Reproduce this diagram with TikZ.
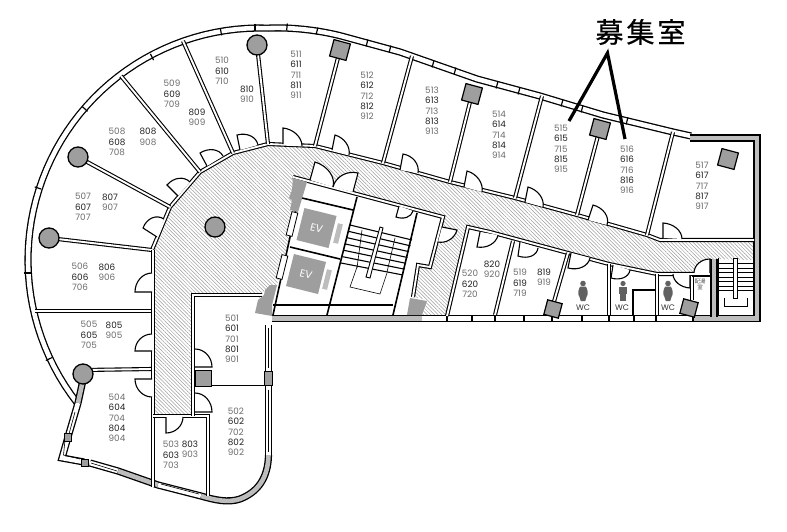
\documentclass[tikz,border=0pt]{standalone}
\usepackage{fontspec}
\setmainfont{Poppins}
\newfontfamily\cjkf{Noto Sans CJK JP}
\newfontfamily\cjkt[FakeBold=0.5]{Noto Sans CJK JP}
\usetikzlibrary{calc,patterns.meta}
\definecolor{wallg}{gray}{0.74}
\definecolor{colg}{gray}{0.62}
\definecolor{tlight}{gray}{0.42}
\definecolor{tdark}{gray}{0.12}
\tikzset{
  outerwall/.style={line width=1.3pt,double=white,double distance=4.6pt,line join=miter},
  graywall/.style={line width=1.3pt,double=wallg,double distance=4.6pt,line join=miter},
  innerwall/.style={line width=1.1pt,double=white,double distance=1.9pt,line join=miter},
  thick line/.style={line width=1.6pt},
  thinl/.style={line width=.6pt},
  doorline/.style={line width=1.1pt,black},
  columnc/.style={fill=colg,draw=black,line width=1.3pt},
  columns/.style={fill=colg,draw=black,line width=1.2pt},
  lab/.style={font=\fontsize{8.8}{10.35}\selectfont,align=center,inner sep=0pt},
  wclab/.style={font=\fontsize{8}{9}\selectfont,text=black!80,inner sep=0pt},
  callout/.style={line width=3.2pt,black},
  wcicon/.style={fill=black!62,draw=none},
  evbox/.style={fill=colg,minimum width=33pt,minimum height=33pt,rotate=-14,inner sep=0pt,text=white,font=\fontsize{10.5}{12}\selectfont},
  evbar/.style={fill=wallg,minimum width=5pt,minimum height=20pt,rotate=-14,inner sep=0pt},
}
\newcommand{\tl}[1]{\textcolor{tlight}{#1}}
\newcommand{\td}[1]{\textcolor{tdark}{#1}}
\newcommand{\stackc}[4]{\node[lab] at (#1) {\tl{#2}\\\td{#3}\\\tl{#4}};}
\newcommand{\stacke}[6]{\node[lab] at (#1) {\tl{#2}\\\td{#3}\\\tl{#4}\\\td{#5}\\\tl{#6}};}
\newcommand{\stackt}[3]{\node[lab] at (#1) {\td{#2}\\\tl{#3}};}
% door: hinge, leaf tip, end of the swing on the wall
\newcommand{\doorp}[3]{%
  \fill[white] (#1) -- (#2) .. controls ($(#2)+0.55*(#3)-0.55*(#1)$) and ($(#3)+0.55*(#2)-0.55*(#1)$) .. (#3) -- cycle;
  \draw[doorline] (#1) -- (#2) .. controls ($(#2)+0.55*(#3)-0.55*(#1)$) and ($(#3)+0.55*(#2)-0.55*(#1)$) .. (#3);}
\newcommand{\tickm}[2]{\draw[line width=1.2pt] ($(#1)-(#2)$) -- ($(#1)+(#2)$);}
\newcommand{\wcfemale}[1]{\begin{scope}[shift={(#1)}]
  \fill[wcicon] (0,-8.5) circle (2.8);
  \fill[wcicon] (-2.8,-5.5) -- (2.8,-5.5) .. controls (5,-2) and (5.5,2) .. (3.5,5) -- (2.2,9) -- (-2.2,9) -- (-3.5,5) .. controls (-5.5,2) and (-5,-2) .. (-2.8,-5.5) -- cycle;
\end{scope}}
\newcommand{\wcmale}[1]{\begin{scope}[shift={(#1)}]
  \fill[wcicon] (0,-8.5) circle (2.6);
  \fill[wcicon] (-4,-5.5) rectangle (4,2);
  \fill[wcicon] (-2.8,2) rectangle (2.8,9);
\end{scope}}
\begin{document}
\begin{tikzpicture}[x=1pt,y=-1pt]
\useasboundingbox (0,0) rectangle (787,531);
\fill[white] (0,0) rectangle (787,531);

% corridor
\path[pattern={Lines[angle=135,distance=2.6pt,line width=.5pt]},pattern color=black!38]
 (152,250) -- (170,207) -- (200,172) -- (233,153) -- (268,144) -- (315,146) -- (383,163) -- (450,182) -- (515,198) -- (577,215) -- (647,235) -- (660,240) -- (755,240)
 -- (753,260) -- (712,259) -- (694,274) -- (657,274) -- (568,253) -- (490,232) -- (468,227) -- (447,315) -- (422,315) -- (427,300) -- (413,297) -- (418,265) -- (430,267) -- (443,217) -- (293,177) -- (298,212) -- (277,285) -- (265,290) -- (258,300) -- (260,295) -- (193,295) -- (193,415) -- (152,415) -- cycle;

% outer curved wall
\draw[outerwall] plot[domain=218:88,samples=50] ({260+232*cos(\x)},{260-232*sin(\x)}) .. controls (290,27) and (320,30) .. (345,37) -- (400,52) -- (477,79) -- (540,96) -- (603,115) -- (673,132) -- (691,136);
\tickm{27,273}{3.5,0}\tickm{49,359}{3.2,-1.5}\tickm{38,188}{3.3,1.1}\tickm{85,109}{2.6,2.3}\tickm{152,57}{1.6,3.1}\tickm{221,32}{.6,3.4}\tickm{255,27}{0,3.5}\tickm{287,27}{-.4,3.5}\tickm{317,31}{-.9,3.4}\tickm{367,43}{-.9,3.4}\tickm{390,49}{-.9,3.4}\tickm{433,64}{-.9,3.4}\tickm{455,71}{-.9,3.4}\tickm{497,85}{-.9,3.4}\tickm{519,91}{-.9,3.4}\tickm{562,103}{-.9,3.4}\tickm{582,109}{-.9,3.4}\tickm{627,121}{-.9,3.4}

% gray right wall and bottom
\draw[graywall] (690,138) -- (757,138) -- (757,318.5) -- (693,318.5);
\draw[outerwall] (693,318.5) -- (422,318.5);
\foreach \mx in {447,472,495,524,552,582,609,634,656,693} {\draw[line width=1.2pt] (\mx,315) -- (\mx,322);}
\draw[graywall] (422,318.5) -- (272,318.5);

% lower left outer wall
\draw[graywall] (83,380) -- (78,403);
\draw[outerwall] (78,403) -- (68,437);
\draw[outerwall] (68,437) -- (62,458) -- (84,462);
\draw[outerwall] (90,463) -- (118,471);
\draw[graywall] (118,471) -- (158,485);
\draw[outerwall] (158,485) -- (201,496);
\draw[graywall] (201,496) .. controls (215,500) and (228,503) .. (240,499) .. controls (258,492) and (268,478) .. (268.5,455);
\draw[outerwall] (268.5,455) -- (268.5,325);
\draw[thinl] (75,412) -- (69,434) (65,440) -- (63.5,455) -- (80,459);
\draw[thinl] (91,463) -- (117,471) (161,484) -- (199,494);
\fill[colg,draw=black,line width=.6pt] (264.5,371) rectangle (272.5,385);
\fill[colg,draw=black,line width=.6pt] (81,459) rectangle (88,466);
\fill[colg,draw=black,line width=.6pt] (64,433) rectangle (71,441);
\draw[thinl] (268.5,328) -- (268.5,368) (268.5,390) -- (268.5,452);

% room walls
\draw[innerwall] (152,250) -- (170,207) -- (200,172) -- (233,153) -- (268,144) -- (315,146) -- (383,163) -- (450,182) -- (515,198) -- (577,215) -- (647,235) -- (660,240) -- (754,240);
\draw[innerwall] (49,238) -- (152,250);
\draw[innerwall] (78,157) -- (170,207);
\draw[innerwall] (121,76) -- (200,172);
\draw[innerwall] (183,41) -- (233,153);
\draw[innerwall] (257,45) -- (268,144);
\draw[innerwall] (340,50) -- (315,146);
\draw[innerwall] (412,56) -- (383,163);
\draw[innerwall] (472,94) -- (450,182);
\draw[innerwall] (542,96) -- (515,198);
\draw[innerwall] (600,128) -- (577,215);
\draw[innerwall] (673,132) -- (647,235);
\draw[innerwall] (35,311) -- (152,311);
\draw[innerwall] (83,370) -- (152,369);
\draw[innerwall] (153,250) -- (153,487);
\draw[innerwall] (153,416) -- (193,416);
\draw[innerwall] (193,416) -- (208,416) -- (208,496);
\draw[innerwall] (193,416) -- (193,295) -- (262,295);
\fill[colg,draw=black,line width=.6pt] (195,370) rectangle (211,386);
\draw[thick line] (211,385.5) -- (268,385.5);

% lower right rooms
\draw[innerwall] (447,316) -- (468,227) -- (490,232) -- (568,253) -- (609,264) -- (657,274) -- (710,274);
\draw[innerwall] (513,241) -- (495,315);
\draw[innerwall] (568,253) -- (553,305);
\draw[innerwall] (609,264) -- (609,315);
\draw[thick line] (633,315) -- (633,290) -- (655,290);
\draw[innerwall] (657,274) -- (657,315);
\draw[innerwall] (692,276) -- (692,300);
\draw[thick line] (692,276) -- (710,276);
\draw[thinl] (718,258) -- (718,315);
\draw[graywall] (714,259) -- (714,317);

% core
\draw[innerwall] (293,177) -- (443,217) -- (430,267) -- (418,265) -- (413,297);
\draw[thick line] (302,182) -- (273,315);
\draw[thick line] (302,198) -- (353,210);
\draw[thick line] (290,247) -- (340,259);
\draw[thick line] (357,197) -- (327,315);
\draw[thick line] (417,213) -- (393,315);
\draw[thick line] (273,305) -- (393,305);
\foreach \wx/\wy in {292/224,282/267}{\draw[fill=white,line width=.8pt,rotate around={-14:(\wx,\wy)}] (\wx-3,\wy-12) rectangle (\wx+3,\wy+12);}
% EV
\node[evbox] (ev1) at (316.5,228) {EV};
\node[evbar] (ev1b) at (338,233.5) {};
\node[evbox] (ev2) at (306,274) {EV};
\node[evbar] (ev2b) at (327,279.5) {};
% stairs
\foreach \i in {0,...,6}{
  \pgfmathsetmacro\tt{\i/6}
  \draw[line width=1.1pt] ({350-9*\tt},{225+38*\tt}) -- ({412-9*\tt},{240+35*\tt});
}
\draw[thinl] (362,230) -- (357,268) (395,238) -- (387,272);
\draw[fill=white,line width=.9pt] (380,227) -- (383,228) -- (370,278) -- (366,277) -- cycle;
\draw[thinl] (357,267) -- (350,287) -- (380,294) -- (387,273);
% gray pieces of the core
\fill[colg] (293,178) -- (307,182) -- (298,212) -- (290,210) -- (292,200) -- (289,198) -- (292,190) -- cycle;
\fill[colg] (270,285) -- (277,285) -- (272,305) -- (272,316) -- (255,313) -- (258,300) -- (264,295) -- (265,290) -- cycle;
\fill[colg] (410,298) -- (427,301) -- (422,315) -- (407,315) -- cycle;

% right stairs
\foreach \ry in {263,268,272,277,281,286,290}{\draw[line width=1pt] (718,\ry) -- (753,\ry);}
\draw[fill=white,line width=.8pt] (733,258) rectangle (737,298);
\draw[thinl] (724,298) -- (724,306) -- (747,306) -- (747,298);

% columns
\foreach \cx/\cy in {49/238,78/157,257/45,83/374,215/227}{\draw[columnc] (\cx,\cy) circle (10);}
\foreach \cx/\cy in {340/50,472/94,600/129,728/159}{\node[columns,minimum size=17pt,inner sep=0pt,rotate=-15] at (\cx,\cy) {};}
\node[columns,minimum size=15pt,inner sep=0pt,rotate=-15] at (689,308) {};
\node[columns,minimum size=15pt,inner sep=0pt,rotate=-15] at (553,309) {};

% doors
\doorp{178,196}{167,185}{190,182}
\doorp{157,237}{143,228}{164,219}
\doorp{207,166}{200,153}{223,156}
\doorp{240,150}{237,135}{258,145}
\doorp{283,144}{283,128}{302,146}
\doorp{332,150}{335,135}{349,155}
\doorp{400,170}{403,154}{418,173}
\doorp{464,187}{467,171}{482,192}
\doorp{525,202}{528,187}{543,207}
\doorp{588,220}{593,205}{607,225}
\doorp{663,238}{663,223}{682,239}
\doorp{310,180}{315,162}{333,187}
\doorp{353,192}{358,173}{333,187}
\doorp{399,206}{396,217}{413,211}
\doorp{442,227}{457,230}{438,242}
\doorp{480,232}{477,247}{498,235}
\doorp{520,242}{518,256}{538,248}
\doorp{571,253}{568,268}{590,258}
\doorp{613,265}{611,278}{630,270}
\doorp{690,275}{690,288}{673,274}
\doorp{710,273}{710,259}{694,273}
\doorp{152,292}{135,292}{152,273}
\doorp{152,351}{135,351}{152,334}
\doorp{152,379}{135,379}{152,397}
\doorp{166,417}{166,433}{183,417}
\doorp{195,367}{212,367}{195,349}
\doorp{195,412}{212,412}{195,393}

% labels
\stackc{117,142}{508}{608}{708}\stackt{148,137}{808}{908}
\stackc{83,207}{507}{607}{707}\stackt{110,202}{807}{907}
\stackc{80,277}{506}{606}{706}\stackt{107,272}{806}{906}
\stackc{89,335}{505}{605}{705}\stackt{114,330}{805}{905}
\stacke{117,418}{504}{604}{704}{804}{904}
\stackc{171,455}{503}{603}{703}\stackt{190,449}{803}{903}
\stacke{236,432}{502}{602}{702}{802}{902}
\stacke{232,339}{501}{601}{701}{801}{901}
\stackc{172,94}{509}{609}{709}\stackt{197,117}{809}{909}
\stackc{222,71}{510}{610}{710}\stackt{247,94}{810}{910}
\stacke{296,75}{511}{611}{711}{811}{911}
\stacke{367,96}{512}{612}{712}{812}{912}
\stacke{432,111}{513}{613}{713}{813}{913}
\stacke{499,135}{514}{614}{714}{814}{914}
\stacke{561,149}{515}{615}{715}{815}{915}
\stacke{627,170}{516}{616}{716}{816}{916}
\stacke{702,186}{517}{617}{717}{817}{917}
\stackc{470,284}{520}{620}{720}\stackt{492,269}{820}{920}
\stackc{520,283}{519}{619}{719}\stackt{544,277}{819}{919}

% WC
\wcfemale{583,292}\wcmale{623,292}\wcfemale{668,292}
\node[wclab] at (583,308) {WC};
\node[wclab] at (622,308) {WC};
\node[wclab] at (668,308) {WC};
\node[font=\cjkf\fontsize{5.5}{6.3}\selectfont,text=black!70,align=center,inner sep=0pt] at (700,284) {配湯\\室};

% call-out
\node[font=\cjkt\fontsize{28}{30}\selectfont,inner sep=0pt] (title) at (640.5,32) {募\kern3pt 集\kern3pt 室};
\coordinate (apex) at (607.5,53);
\coordinate (endA) at (569,121);
\coordinate (endB) at (625,139);
\draw[callout] (endA) -- (apex) -- (endB);
\end{tikzpicture}
\end{document}
